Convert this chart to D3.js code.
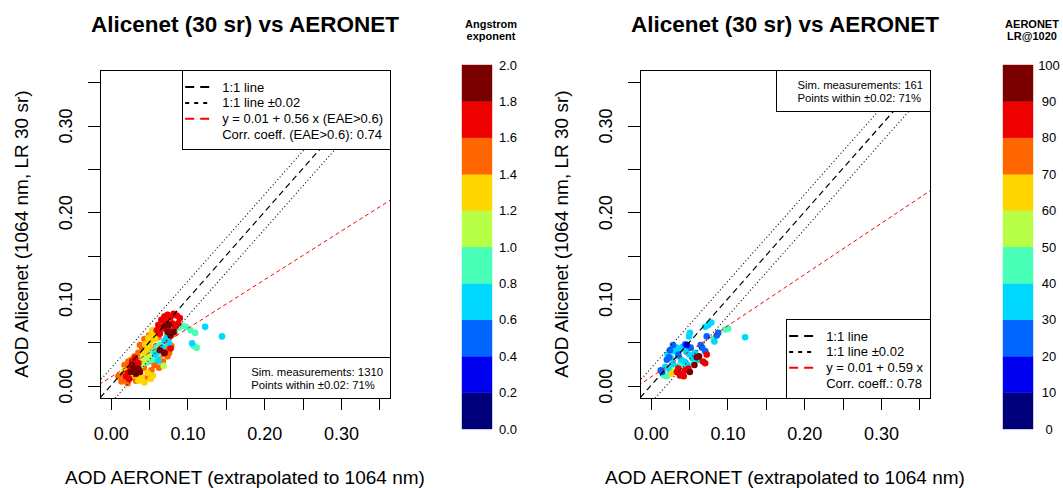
<!DOCTYPE html>
<html lang="en">
<head>
<meta charset="utf-8">
<title>Alicenet (30 sr) vs AERONET</title>
<script src="https://cdn.jsdelivr.net/npm/d3@7"></script>
<style>
  body { margin: 0; background: #fff; }
  svg { display: block; font-family: "Liberation Sans", Arial, Helvetica, sans-serif; }
  .axis path.domain { display: none; }
  .axis line { stroke: #000; shape-rendering: crispEdges; }
</style>
</head>
<body>
<div id="chart"></div>
<script>
// [AOD AERONET, AOD Alicenet, Angstrom exponent]
var leftPoints = [
  // orange
  [0.010,0.011,1.5],[0.014,0.005,1.5],[0.016,0.013,1.5],[0.019,0.008,1.5],[0.020,0.018,1.5],[0.022,0.003,1.5],
  [0.024,0.022,1.5],[0.026,0.010,1.5],[0.027,0.030,1.5],[0.029,0.017,1.5],[0.031,0.034,1.5],[0.033,0.006,1.5],
  [0.034,0.026,1.5],[0.036,0.038,1.5],[0.038,0.014,1.5],[0.040,0.031,1.5],[0.041,0.044,1.5],[0.043,0.021,1.5],
  [0.045,0.036,1.5],[0.046,0.050,1.5],[0.048,0.010,1.5],[0.049,0.028,1.5],[0.051,0.042,1.5],[0.053,0.018,1.5],
  [0.055,0.034,1.5],[0.057,0.024,1.5],[0.059,0.046,1.5],[0.061,0.030,1.5],[0.063,0.021,1.5],[0.066,0.036,1.5],
  [0.068,0.028,1.5],[0.071,0.043,1.5],[0.074,0.034,1.5],[0.076,0.038,1.5],[0.079,0.046,1.5],[0.018,0.024,1.5],
  [0.023,0.028,1.5],[0.038,0.047,1.5],[0.044,0.054,1.5],[0.050,0.058,1.5],[0.062,0.056,1.5],[0.065,0.068,1.5],
  [0.083,0.060,1.5],
  // gold
  [0.036,0.006,1.3],[0.040,0.010,1.3],[0.044,0.004,1.3],[0.048,0.015,1.3],[0.052,0.008,1.3],[0.055,0.012,1.3],
  [0.030,0.012,1.3],[0.047,0.040,1.3],[0.050,0.046,1.3],[0.052,0.052,1.3],[0.053,0.058,1.3],[0.054,0.064,1.3],
  [0.056,0.061,1.3],[0.049,0.055,1.3],[0.058,0.054,1.3],[0.045,0.048,1.3],[0.042,0.038,1.3],[0.060,0.040,1.3],
  [0.025,0.016,1.3],[0.018,0.018,1.3],
  // aquamarine
  [0.052,0.036,0.9],[0.056,0.040,0.9],[0.060,0.044,0.9],[0.064,0.047,0.9],[0.058,0.033,0.9],[0.068,0.046,0.9],
  [0.071,0.050,0.9],[0.054,0.030,0.9],[0.062,0.037,0.9],[0.083,0.064,0.9],[0.089,0.067,0.9],[0.094,0.069,0.9],
  [0.098,0.068,0.9],[0.104,0.064,0.9],[0.110,0.061,0.9],[0.076,0.055,0.9],[0.080,0.061,0.9],[0.108,0.046,0.9],
  [0.112,0.044,0.9],[0.047,0.027,0.9],[0.066,0.041,0.9],
  // lime
  [0.069,0.023,1.1],[0.042,0.032,1.1],[0.046,0.030,1.1],[0.050,0.034,1.1],[0.040,0.024,1.1],
  // cyan
  [0.070,0.052,0.7],[0.073,0.056,0.7],[0.076,0.049,0.7],[0.058,0.036,0.7],[0.062,0.029,0.7],[0.106,0.049,0.7],
  [0.123,0.068,0.7],[0.145,0.057,0.7],[0.067,0.044,0.7],
  // red
  [0.062,0.070,1.7],[0.066,0.076,1.7],[0.070,0.080,1.7],[0.074,0.082,1.7],[0.078,0.079,1.7],[0.082,0.083,1.7],
  [0.086,0.081,1.7],[0.090,0.078,1.7],[0.088,0.072,1.7],[0.084,0.068,1.7],[0.080,0.072,1.7],[0.072,0.074,1.7],
  [0.068,0.066,1.7],[0.076,0.064,1.7],[0.060,0.064,1.7],[0.064,0.060,1.7],[0.022,0.015,1.7],[0.026,0.020,1.7],
  [0.030,0.024,1.7],[0.034,0.018,1.7],[0.028,0.028,1.7],[0.036,0.026,1.7],[0.024,0.008,1.7],[0.020,0.011,1.7],
  [0.032,0.032,1.7],[0.070,0.038,1.7],[0.078,0.043,1.7],
  // dark red
  [0.074,0.062,1.9],[0.078,0.058,1.9],[0.082,0.062,1.9],[0.070,0.069,1.9],[0.076,0.070,1.9],[0.026,0.016,1.9],
  [0.030,0.019,1.9],[0.033,0.014,1.9],[0.036,0.020,1.9],[0.028,0.024,1.9],[0.064,0.041,1.9],[0.070,0.038,1.9],
  [0.038,0.016,1.9]
];

// [AOD AERONET, AOD Alicenet, AERONET LR@1020]
var rightPoints = [
  // aquamarine
  [0.097,0.065,45],[0.101,0.066,45],[0.082,0.054,45],[0.017,0.012,45],[0.021,0.011,45],[0.039,0.026,45],
  [0.056,0.028,45],[0.060,0.034,45],[0.024,0.020,45],[0.043,0.021,45],
  // cyan
  [0.075,0.070,35],[0.079,0.073,35],[0.071,0.068,35],[0.050,0.057,35],[0.051,0.061,35],[0.123,0.056,35],
  [0.083,0.051,35],[0.030,0.040,35],[0.034,0.044,35],[0.038,0.042,35],[0.042,0.045,35],[0.046,0.040,35],
  [0.050,0.036,35],[0.054,0.032,35],[0.040,0.030,35],[0.036,0.034,35],[0.044,0.028,35],[0.026,0.032,35],
  [0.022,0.036,35],[0.048,0.024,35],[0.058,0.038,35],[0.062,0.030,35],[0.029,0.025,35],[0.033,0.022,35],
  [0.019,0.022,35],[0.025,0.018,35],
  // blue
  [0.086,0.058,25],[0.088,0.061,25],[0.073,0.057,25],[0.065,0.047,25],[0.067,0.044,25],[0.071,0.040,25],
  [0.045,0.048,25],[0.021,0.030,25],[0.024,0.033,25],[0.025,0.041,25],[0.029,0.047,25],[0.013,0.018,25],
  [0.015,0.016,25],[0.036,0.036,25],[0.052,0.044,25],[0.047,0.047,15],
  // lime, gold
  [0.031,0.018,55],[0.027,0.014,65],
  // red
  [0.073,0.036,85],[0.071,0.026,85],[0.068,0.028,85],[0.034,0.016,85],[0.038,0.012,85],[0.041,0.014,85],
  [0.045,0.018,85],[0.049,0.020,85],[0.036,0.020,85],[0.043,0.011,85],
  // dark red
  [0.060,0.033,95],[0.063,0.034,95],[0.051,0.016,95],[0.057,0.024,95]
];

var binColors = ['#00007a', '#0000f0', '#0066ff', '#00d8ff', '#48ffb8',
                 '#b8ff48', '#ffd500', '#ff6600', '#ee0000', '#7a0000'];
var eaeLabels = ['0.0', '0.2', '0.4', '0.6', '0.8', '1.0', '1.2', '1.4', '1.6', '1.8', '2.0'];
var lrLabels = ['0', '10', '20', '30', '40', '50', '60', '70', '80', '90', '100'];
var axisTicks = [0, 0.05, 0.10, 0.15, 0.20, 0.25, 0.30, 0.35];
var axisTickLabels = [0, 0.10, 0.20, 0.30];
var leftFit = [0.01, 0.56];
var rightFit = [0.01, 0.59];
var leftStats = ['Sim. measurements: 1310', 'Points within \u00b10.02: 71%'];
var rightStats = ['Sim. measurements: 161', 'Points within \u00b10.02: 71%'];
var leftLegend = ['1:1 line', '1:1 line \u00b10.02', 'y = 0.01 + 0.56 x (EAE>0.6)', 'Corr. coeff. (EAE>0.6): 0.74'];
var rightLegend = ['1:1 line', '1:1 line \u00b10.02', 'y = 0.01 + 0.59 x', 'Corr. coeff.: 0.78'];

var W = 1063, H = 488;
var plotTop = 70, plotBottom = 398;

var svg = d3.select('#chart').append('svg')
  .attr('width', W)
  .attr('height', H);

function drawPanel(p) {
  // R style axis range: [0, 0.35] plus 4%
  var x = d3.scaleLinear().domain([-0.014, 0.364]).range([p.left, p.right]);
  var y = d3.scaleLinear().domain([-0.014, 0.364]).range([plotBottom, plotTop]);
  var color = d3.scaleQuantize().domain(p.cDomain).range(binColors);
  var cx = (p.left + p.right) / 2;

  svg.append('clipPath').attr('id', 'clip-' + p.id)
    .append('rect')
    .attr('x', p.left).attr('y', plotTop)
    .attr('width', p.right - p.left).attr('height', plotBottom - plotTop);

  var plot = svg.append('g').attr('clip-path', 'url(#clip-' + p.id + ')');

  plot.selectAll('circle')
    .data(p.points)
    .enter()
    .append('circle')
    .attr('cx', d => x(d[0]))
    .attr('cy', d => y(d[1]))
    .attr('r', 3.3)
    .attr('fill', d => color(d[2]));

  var line = d3.line().x(d => x(d[0])).y(d => y(d[1]));
  var span = [-0.1, 0.5];

  plot.append('path')
    .attr('d', line(span.map(v => [v, v])))
    .attr('fill', 'none').attr('stroke', '#000')
    .attr('stroke-width', 1.2).attr('stroke-dasharray', '6,4');

  [-0.02, 0.02].forEach(function (off) {
    plot.append('path')
      .attr('d', line(span.map(v => [v, v + off])))
      .attr('fill', 'none').attr('stroke', '#000')
      .attr('stroke-width', 1.1).attr('stroke-dasharray', '1,2.5');
  });

  plot.append('path')
    .attr('d', line(span.map(v => [v, p.fit[0] + p.fit[1] * v])))
    .attr('fill', 'none').attr('stroke', '#f00')
    .attr('stroke-width', 1).attr('stroke-dasharray', '4,3');

  var fmt = function (v) {
    return axisTickLabels.some(t => Math.abs(t - v) < 1e-9) ? d3.format('.2f')(v) : '';
  };

  svg.append('g')
    .attr('class', 'axis')
    .attr('transform', 'translate(0,' + plotBottom + ')')
    .call(d3.axisBottom(x).tickValues(axisTicks).tickSize(12).tickPadding(17).tickFormat(fmt))
    .call(g => g.selectAll('text').style('font-size', '18px').attr('fill', '#000'));

  svg.append('g')
    .attr('class', 'axis')
    .attr('transform', 'translate(' + p.left + ',0)')
    .call(d3.axisLeft(y).tickValues(axisTicks).tickSize(12).tickFormat(fmt))
    .call(g => g.selectAll('text')
      .style('font-size', '18px').attr('fill', '#000')
      .attr('transform', 'rotate(-90)')
      .attr('x', 0).attr('y', -28).attr('dy', 0)
      .attr('text-anchor', 'middle'));

  svg.append('rect')
    .attr('x', p.left).attr('y', plotTop)
    .attr('width', p.right - p.left).attr('height', plotBottom - plotTop)
    .attr('fill', 'none').attr('stroke', '#000')
    .attr('shape-rendering', 'crispEdges');

  svg.append('text')
    .attr('x', cx).attr('y', 32)
    .attr('text-anchor', 'middle')
    .style('font-size', '22.5px').style('font-weight', 'bold')
    .text('Alicenet (30 sr) vs AERONET');

  svg.append('text')
    .attr('x', cx).attr('y', 484)
    .attr('text-anchor', 'middle')
    .style('font-size', '19px')
    .text('AOD AERONET (extrapolated to 1064 nm)');

  svg.append('text')
    .attr('transform', 'translate(' + (p.left - 72) + ',' + ((plotTop + plotBottom) / 2) + ') rotate(-90)')
    .attr('text-anchor', 'middle')
    .style('font-size', '19px')
    .text('AOD Alicenet (1064 nm, LR 30 sr)');

  // line legend
  var lg = svg.append('g');
  var lgBox = lg.append('rect').attr('fill', '#fff').attr('stroke', '#000').attr('shape-rendering', 'crispEdges');
  var styles = [
    { c: '#000', d: '9,6' },
    { c: '#000', d: '4,5' },
    { c: '#f00', d: '9,6' },
    null
  ];
  var maxW = 0;
  p.legend.forEach(function (txt, i) {
    var yy = p.legendTop + 21.5 + i * 15.9;
    var t = lg.append('text')
      .attr('x', 0).attr('y', yy)
      .style('font-size', '13px')
      .text(txt);
    maxW = Math.max(maxW, t.node().getComputedTextLength());
  });
  var lgLeft = p.right - 47 - maxW;
  lgBox.attr('x', lgLeft).attr('y', p.legendTop).attr('width', p.right - lgLeft).attr('height', 79);
  lg.selectAll('text').attr('x', lgLeft + 40);
  styles.forEach(function (s, i) {
    if (!s) return;
    var yy = p.legendTop + 21.5 + i * 15.9 - 4.5;
    lg.append('line')
      .attr('x1', lgLeft + 3).attr('x2', lgLeft + 28)
      .attr('y1', yy).attr('y2', yy)
      .attr('stroke', s.c).attr('stroke-width', 2).attr('stroke-dasharray', s.d);
  });

  // stats box
  var sg = svg.append('g');
  var sBox = sg.append('rect').attr('fill', '#fff').attr('stroke', '#000').attr('shape-rendering', 'crispEdges');
  var sW = 0;
  p.stats.forEach(function (txt, i) {
    var t = sg.append('text')
      .attr('y', p.statsTop + 19 + i * 13.3)
      .style('font-size', '11.3px')
      .text(txt);
    sW = Math.max(sW, t.node().getComputedTextLength());
  });
  var sLeft = p.right - 28 - sW;
  sBox.attr('x', sLeft).attr('y', p.statsTop).attr('width', p.right - sLeft).attr('height', 41);
  sg.selectAll('text').attr('x', sLeft + 21);

  // colour bar
  var cb = d3.scaleLinear().domain(p.cDomain).range([429, 65]);
  var step = (p.cDomain[1] - p.cDomain[0]) / binColors.length;
  var bins = binColors.map((c, i) => p.cDomain[0] + i * step);
  svg.append('g').selectAll('rect')
    .data(bins)
    .enter()
    .append('rect')
    .attr('x', p.cbLeft).attr('width', 30)
    .attr('y', d => cb(d + step))
    .attr('height', d => cb(d) - cb(d + step))
    .attr('fill', d => color(d + step / 2))
    .attr('stroke', d => color(d + step / 2))
    .attr('stroke-width', 0.4);

  svg.append('g').selectAll('text')
    .data(p.cbLabels)
    .enter()
    .append('text')
    .attr('x', p.cbLeft + 46)
    .attr('y', (d, i) => cb(p.cDomain[0] + i * step) + 4.5)
    .attr('text-anchor', 'middle')
    .style('font-size', '13px')
    .text(d => d);

  p.cbTitle.forEach(function (txt, i) {
    svg.append('text')
      .attr('x', p.cbLeft + 29).attr('y', 27.5 + i * 12.5)
      .attr('text-anchor', 'middle')
      .style('font-size', '11px').style('font-weight', 'bold')
      .text(txt);
  });
}

drawPanel({
  id: 'l', left: 100, right: 390,
  points: leftPoints, fit: leftFit, cDomain: [0, 2],
  legend: leftLegend, legendTop: 70,
  stats: leftStats, statsTop: 357,
  cbLeft: 462, cbLabels: eaeLabels, cbTitle: ['Angstrom', 'exponent']
});

drawPanel({
  id: 'r', left: 640, right: 930,
  points: rightPoints, fit: rightFit, cDomain: [0, 100],
  legend: rightLegend, legendTop: 319,
  stats: rightStats, statsTop: 70,
  cbLeft: 1003, cbLabels: lrLabels, cbTitle: ['AERONET', 'LR@1020']
});
</script>
</body>
</html>
